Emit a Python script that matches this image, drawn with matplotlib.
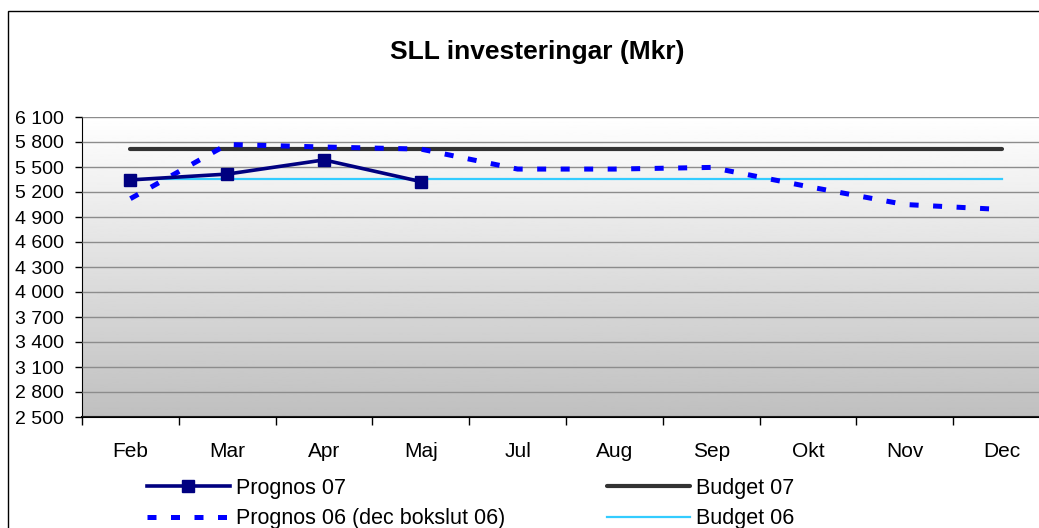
import matplotlib
matplotlib.use('Agg')
import matplotlib.pyplot as plt
import numpy as np
from matplotlib.patches import Rectangle
from matplotlib.ticker import FixedLocator, FuncFormatter

plt.rcParams['font.family'] = ['Liberation Sans', 'DejaVu Sans']

# data (Mkr)
months = ['Feb', 'Mar', 'Apr', 'Maj', 'Jul', 'Aug', 'Sep', 'Okt', 'Nov', 'Dec']
prognos_07 = [5345, 5415, 5585, 5325]
prognos_06 = [5120, 5770, 5740, 5715, 5475, 5475, 5495, 5265, 5050, 4990]
budget_07 = [5715] * len(months)
budget_06 = [5355] * len(months)
y_ticks = list(range(2500, 6101, 300))

fig = plt.figure(figsize=(10.39, 5.28), dpi=100)
fig.patch.set_facecolor('white')

# outer chart border (runs off the right and bottom edge like the source)
fig.patches.append(Rectangle((8 / 1039, -0.05), 1.1, 1 - 11 / 528 + 0.05,
                             transform=fig.transFigure, fill=False,
                             edgecolor='black', linewidth=1.0))

ax = fig.add_axes([82 / 1039, 1 - 417 / 528, 968 / 1039, 300 / 528])
x = np.arange(len(months))

# gradient plot area, white at top to grey at bottom
grad = np.linspace(1.0, 0.75, 256).reshape(-1, 1)
ax.imshow(grad, cmap='gray', vmin=0, vmax=1, aspect='auto',
          extent=(-0.5, len(months) - 0.5, 2500, 6100), zorder=0)

ax.set_xlim(-0.5, len(months) - 0.5)
ax.set_ylim(2500, 6100)

ax.yaxis.set_major_locator(FixedLocator(y_ticks))
ax.yaxis.set_major_formatter(FuncFormatter(lambda v, p: f'{int(v):,}'.replace(',', ' ')))
ax.grid(axis='y', color='#8c8c8c', linewidth=1.0, zorder=1)
ax.set_axisbelow(False)

ax.xaxis.set_major_locator(FixedLocator(np.arange(len(months) + 1) - 0.5))
ax.xaxis.set_major_formatter(FuncFormatter(lambda v, p: ''))
ax.xaxis.set_minor_locator(FixedLocator(x))
ax.set_xticklabels(months, minor=True)
ax.tick_params(axis='x', which='major', direction='out', length=6, width=1, color='black')
ax.tick_params(axis='x', which='minor', length=0, pad=18, labelsize=15)
ax.tick_params(axis='y', direction='out', length=5, width=1, color='black', pad=8, labelsize=14)

for side in ['top', 'right']:
    ax.spines[side].set_visible(False)
ax.spines['left'].set_color('black')
ax.spines['bottom'].set_color('black')
ax.spines['bottom'].set_linewidth(1.5)

h_b07, = ax.plot(x, budget_07, color='#333333', linewidth=3.0, solid_capstyle='round', zorder=3, label='Budget 07')
h_b06, = ax.plot(x, budget_06, color='#33ccff', linewidth=1.6, zorder=3, label='Budget 06')
h_p06, = ax.plot(x, prognos_06, color='#0000ff', linewidth=3.6, linestyle=(0, (1.8, 2.9)),
                 dash_capstyle='butt', zorder=4, label='Prognos 06 (dec bokslut 06)')
h_p07, = ax.plot(x[:len(prognos_07)], prognos_07, color='#000080', linewidth=2.6, marker='s',
                 markersize=8, zorder=5, label='Prognos 07')

fig.text(537 / 1039, 1 - 52 / 528, 'SLL investeringar (Mkr)', ha='center', va='center',
         fontsize=19, fontweight='bold')

fig.legend([h_p07, h_p06, h_b07, h_b06],
           ['Prognos 07', 'Prognos 06 (dec bokslut 06)', 'Budget 07', 'Budget 06'],
           ncol=2, loc='upper left', bbox_to_anchor=(147 / 1039, 1 - 478 / 528),
           frameon=False, borderpad=0, borderaxespad=0, handlelength=3.85,
           handletextpad=0.3, columnspacing=4.7, labelspacing=0.42, fontsize=15.5)

fig.savefig('out.png', dpi=100, facecolor='white')
